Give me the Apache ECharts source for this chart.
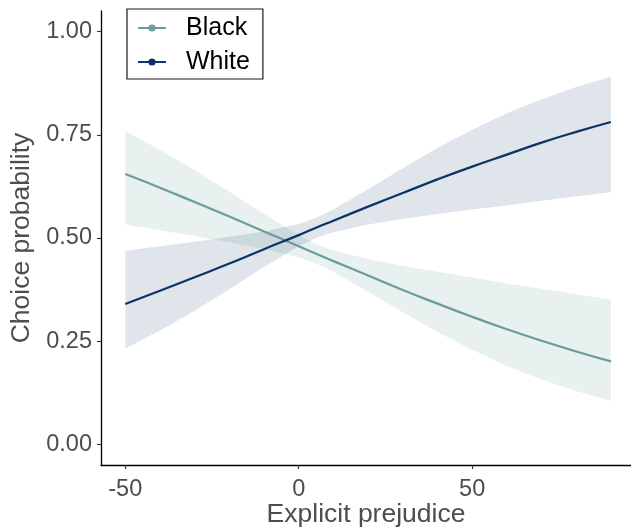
<!DOCTYPE html>
<html>
<head>
<meta charset="utf-8">
<script src="https://cdn.jsdelivr.net/npm/echarts@6/dist/echarts.min.js"></script>
<style>
html,body{margin:0;padding:0;background:#fff;}
#chart{width:631px;height:529px;}
</style>
</head>
<body>
<div id="chart"></div>
<script>
// Explicit prejudice values at which the curves were read
const xs = [-50, -40, -30, -20, -10, 0, 5, 10, 20, 30, 40, 50, 60, 70, 80, 90];

// Black target: fitted probability and 95% band
const blackFit   = [0.655, 0.622, 0.587, 0.552, 0.516, 0.480, 0.462, 0.444, 0.409, 0.374, 0.341, 0.309, 0.279, 0.251, 0.225, 0.201];
const blackUpper = [0.759, 0.714, 0.665, 0.612, 0.558, 0.507, 0.486, 0.470, 0.449, 0.432, 0.418, 0.404, 0.390, 0.377, 0.364, 0.351];
const blackLower = [0.533, 0.519, 0.505, 0.490, 0.474, 0.453, 0.438, 0.418, 0.370, 0.320, 0.272, 0.229, 0.190, 0.157, 0.129, 0.105];

// White target: fitted probability and 95% band
const whiteFit   = [0.340, 0.372, 0.405, 0.438, 0.473, 0.507, 0.525, 0.542, 0.576, 0.609, 0.642, 0.673, 0.702, 0.731, 0.757, 0.781];
const whiteUpper = [0.469, 0.480, 0.491, 0.503, 0.516, 0.534, 0.549, 0.569, 0.618, 0.669, 0.718, 0.762, 0.802, 0.836, 0.866, 0.891];
const whiteLower = [0.232, 0.276, 0.324, 0.376, 0.430, 0.480, 0.500, 0.514, 0.533, 0.546, 0.558, 0.569, 0.579, 0.590, 0.601, 0.611];

const xTicks = [-50, 0, 50];
const yTicks = [0, 0.25, 0.5, 0.75, 1];
const seriesNames = ['Black', 'White'];

const colBlack = '#6A9C9A';
const colWhite = '#0B3466';

const pairs = (ys) => xs.map((x, i) => [x, ys[i]]);

function band(name, lower, upper, color) {
  return {
    type: 'custom',
    name: name + ' band',
    silent: true,
    z: 1,
    data: [0],
    renderItem: function (params, api) {
      const pts = [];
      for (let i = 0; i < xs.length; i++) pts.push(api.coord([xs[i], upper[i]]));
      for (let i = xs.length - 1; i >= 0; i--) pts.push(api.coord([xs[i], lower[i]]));
      return {
        type: 'polygon',
        shape: { points: pts, smooth: 0 },
        style: { fill: color }
      };
    }
  };
}

const chart = echarts.init(document.getElementById('chart'), null, { renderer: 'canvas' });
const axisLabelStyle = { color: '#4D4D4D', fontSize: 23.5, fontFamily: 'Liberation Sans, Arial, sans-serif' };

chart.setOption({
  animation: false,
  backgroundColor: '#ffffff',
  grid: { left: 101, right: 0, top: 11, bottom: 64, containLabel: false, outerBoundsMode: 'none' },
  legend: {
    data: seriesNames,
    orient: 'vertical',
    left: 127,
    top: 9,
    padding: [5, 13, 3, 10],
    itemWidth: 28,
    itemHeight: 9,
    itemGap: 6,
    borderColor: '#1a1a1a',
    borderWidth: 1.2,
    backgroundColor: '#ffffff',
    textStyle: { color: '#000000', fontSize: 25, fontFamily: 'Liberation Sans, Arial, sans-serif', lineHeight: 28, padding: [0, 0, 0, 15] }
  },
  xAxis: {
    type: 'value',
    min: -57,
    max: 95.8,
    name: 'Explicit prejudice',
    nameLocation: 'middle',
    nameGap: 36,
    nameMoveOverlap: false,
    nameTextStyle: { color: '#4D4D4D', fontSize: 26.5, fontFamily: 'Liberation Sans, Arial, sans-serif' },
    axisLine: { show: true, onZero: false, lineStyle: { color: '#000000', width: 1.3 } },
    axisTick: { show: true, length: 4, customValues: xTicks, lineStyle: { color: '#333333', width: 1.1 } },
    axisLabel: Object.assign({ customValues: xTicks, margin: 13, formatter: v => String(v) }, axisLabelStyle),
    splitLine: { show: false }
  },
  yAxis: {
    type: 'value',
    min: -0.05,
    max: 1.05,
    name: 'Choice probability',
    nameLocation: 'middle',
    nameGap: 66,
    nameMoveOverlap: false,
    nameTextStyle: { color: '#4D4D4D', fontSize: 26.5, fontFamily: 'Liberation Sans, Arial, sans-serif' },
    axisLine: { show: true, onZero: false, lineStyle: { color: '#000000', width: 1.3 } },
    axisTick: { show: true, length: 4, customValues: yTicks, lineStyle: { color: '#333333', width: 1.1 } },
    axisLabel: Object.assign({ customValues: yTicks, margin: 9, formatter: v => v.toFixed(2) }, axisLabelStyle),
    splitLine: { show: false }
  },
  series: [
    band('Black', blackLower, blackUpper, 'rgba(106,156,154,0.15)'),
    band('White', whiteLower, whiteUpper, 'rgba(11,52,102,0.13)'),
    {
      type: 'line', name: 'Black', data: pairs(blackFit), smooth: true,
      symbol: 'circle', showSymbol: false, z: 3,
      lineStyle: { color: colBlack, width: 2.2 }, itemStyle: { color: colBlack }
    },
    {
      type: 'line', name: 'White', data: pairs(whiteFit), smooth: true,
      symbol: 'circle', showSymbol: false, z: 3,
      lineStyle: { color: colWhite, width: 2.2 }, itemStyle: { color: colWhite }
    }
  ]
});
</script>
</body>
</html>
